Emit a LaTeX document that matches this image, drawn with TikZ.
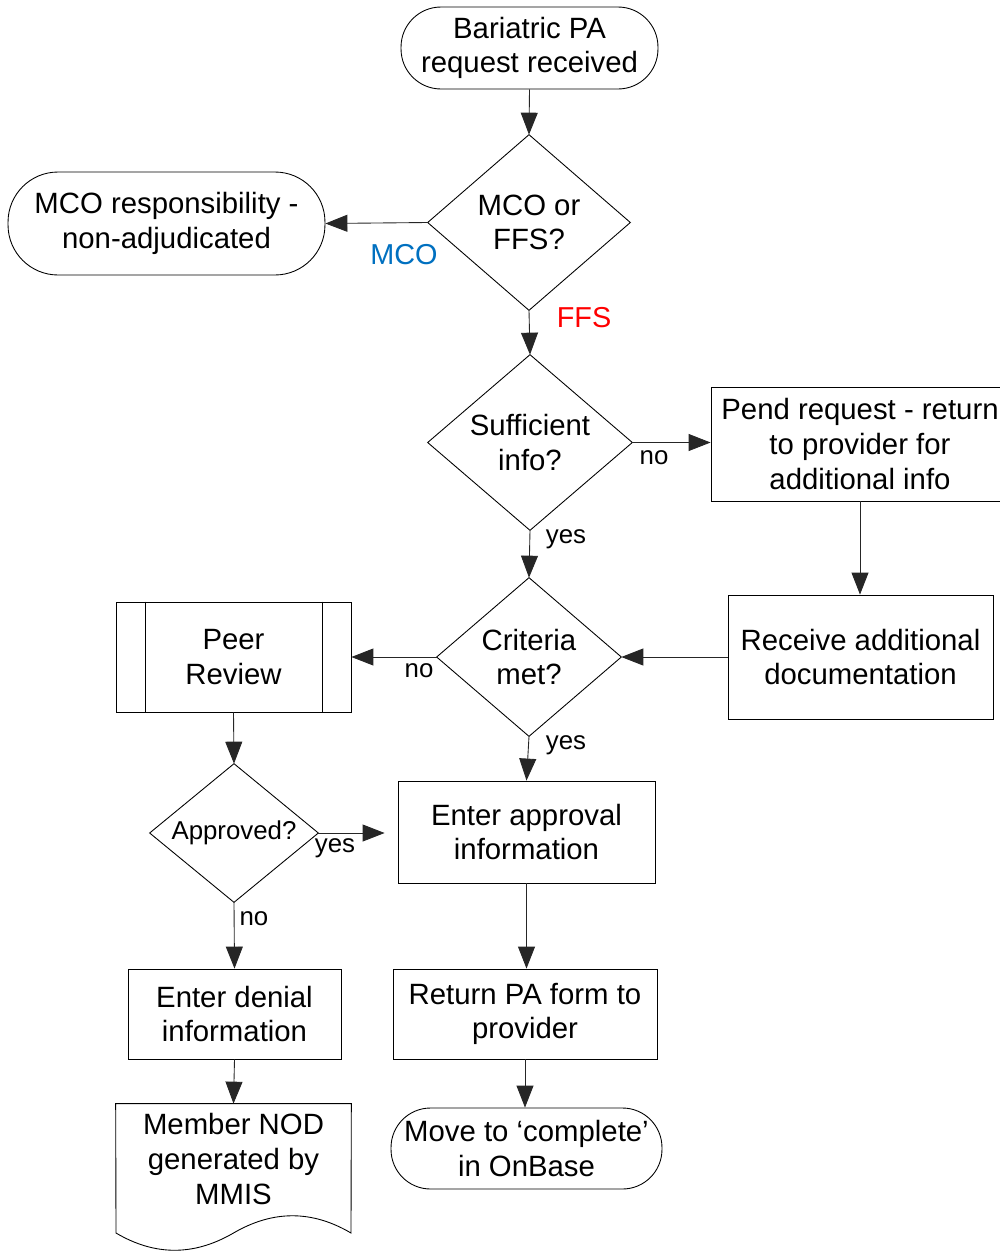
\documentclass[tikz,border=0pt]{standalone}
\usepackage{fontspec}
\setmainfont{Liberation Sans}
\usetikzlibrary{arrows.meta}
\definecolor{mcoblue}{RGB}{0,112,192}
\definecolor{ffsred}{RGB}{255,0,0}
\begin{document}
\begin{tikzpicture}[x=0.02cm,y=-0.02cm,
  every node/.style={font=\fontsize{16.7}{19.8}\selectfont, align=center, inner sep=0pt},
  box/.style={draw, line width=0.5pt},
  diam/.style={draw=none},
  lbl/.style={font=\fontsize{14.7}{17}\selectfont},
  clbl/.style={font=\fontsize{16.4}{19}\selectfont},
  arr/.style={line width=0.5pt, draw=black!85, -{Triangle[length=0.44cm,width=0.34cm]}},
]
\useasboundingbox (0,0) rectangle (1000,1251);
\clip (0,0) rectangle (1000,1251);

% nodes
\node[box, rounded corners=0.8cm, minimum width=5.14cm, minimum height=1.64cm] (start) at (529.5,48) {Bariatric PA\\request received};
\node[diam, minimum width=4.04cm, minimum height=3.5cm] (d1) at (529,222.5) {MCO or\\FFS?};
\node[box, rounded corners=1.0cm, minimum width=6.34cm, minimum height=2.06cm] (mco) at (166.5,223.5) {MCO responsibility -\\non-adjudicated};
\node[diam, minimum width=4.08cm, minimum height=3.5cm] (d2) at (530,442.5) {Sufficient\\info?};
\node[box, minimum width=5.96cm, minimum height=2.28cm] (pend) at (860,444) {Pend request - return\\to provider for\\additional info};
\node[box, minimum width=5.3cm, minimum height=2.48cm] (recv) at (860.5,657) {Receive additional\\documentation};
\node[diam, minimum width=3.68cm, minimum height=3.16cm] (d3) at (529,657) {Criteria\\met?};
\node[box, minimum width=4.7cm, minimum height=2.2cm] (peer) at (233.5,657) {Peer\\Review};
\node[diam, minimum width=3.36cm, minimum height=2.76cm, font=\fontsize{14.7}{17}\selectfont] (d4) at (234,833) {Approved?};
\node[box, minimum width=5.14cm, minimum height=2.04cm] (approve) at (526.5,832) {Enter approval\\information};
\node[box, minimum width=4.26cm, minimum height=1.8cm] (deny) at (234.5,1014) {Enter denial\\information};
\node[box, minimum width=5.28cm, minimum height=1.8cm] (ret) at (525,1014) {Return PA form to\\provider};
\node[box, rounded corners=0.79cm, minimum width=5.42cm, minimum height=1.62cm] (move) at (526.5,1148.5) {Move to ‘complete’\\in OnBase};
\node[minimum width=4.7cm, minimum height=2.2cm] (nod) at (233.5,1159) {Member NOD\\generated by\\MMIS};

% diamond outlines
\foreach \n in {d1,d2,d3,d4}
  \draw[line width=0.5pt] (\n.north) -- (\n.east) -- (\n.south) -- (\n.west) -- cycle;

% predefined process side bars
\draw[line width=0.5pt] ([xshift=0.6cm]peer.north west) -- ([xshift=0.6cm]peer.south west);
\draw[line width=0.5pt] ([xshift=-0.58cm]peer.north east) -- ([xshift=-0.58cm]peer.south east);

% document shape
\draw[line width=0.5pt] (nod.north west) -- (nod.north east) -- (351,1233)
  .. controls (312,1210) and (273,1210) .. (233.5,1233)
  .. controls (194,1256) and (155,1256) .. (116,1233) -- cycle;

% connectors
\draw[arr] (start.south) -- (d1.north);
\draw[arr] (d1.west) -- (mco.east);
\draw[arr] (d1.south) -- (d2.north);
\draw[arr] (d2.east) -- (d2.east -| pend.west);
\draw[arr] (pend.south) -- (pend.south |- recv.north);
\draw[arr] (recv.west) -- (d3.east);
\draw[arr] (d2.south) -- (d3.north);
\draw[arr] (d3.west) -- (peer.east);
\draw[arr] (d3.south) -- (approve.north);
\draw[arr] (peer.south) -- (d4.north);
\draw[arr, shorten >=0.26cm] (d4.east) -- (d4.east -| approve.west);
\draw[arr] (d4.south) -- (deny.north);
\draw[arr] (approve.south) -- (approve.south |- ret.north);
\draw[arr] (deny.south) -- (nod.north);
\draw[arr] (ret.south) -- (ret.south |- move.north);

% labels
\node[clbl, text=mcoblue] (lmco) at (404,255) {MCO};
\node[clbl, text=ffsred] (lffs) at (584,318) {FFS};
\node[lbl] (lno1) at (654,458) {no};
\node[lbl] (lyes1) at (566,539) {yes};
\node[lbl] (lno2) at (419,671) {no};
\node[lbl] (lyes2) at (566,745) {yes};
\node[lbl] (lyes3) at (335,848) {yes};
\node[lbl] (lno3) at (254,919) {no};
\end{tikzpicture}
\end{document}
